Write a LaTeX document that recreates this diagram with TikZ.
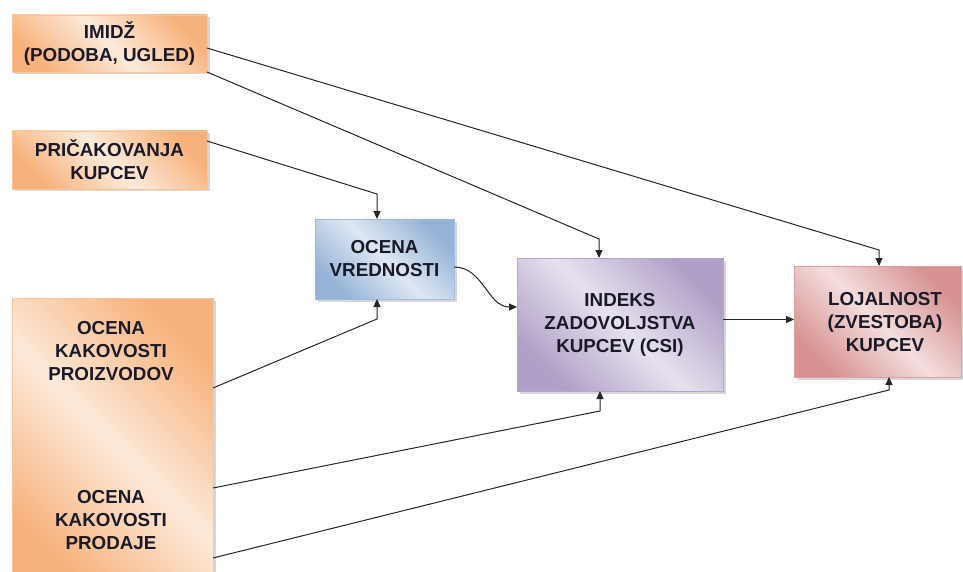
\documentclass[tikz,border=0pt]{standalone}
\usepackage{fontspec}
\setmainfont{Liberation Sans}
\usetikzlibrary{arrows.meta,shadows,calc}
\definecolor{orangeD}{RGB}{247,178,124}
\definecolor{orangeL}{RGB}{253,234,218}
\definecolor{orangeB}{RGB}{248,196,156}
\definecolor{blueD}{RGB}{149,179,215}
\definecolor{blueL}{RGB}{222,231,243}
\definecolor{blueB}{RGB}{160,187,220}
\definecolor{purpleD}{RGB}{176,160,199}
\definecolor{purpleL}{RGB}{230,225,238}
\definecolor{purpleB}{RGB}{180,165,202}
\definecolor{pinkD}{RGB}{215,145,145}
\definecolor{pinkL}{RGB}{243,222,221}
\definecolor{pinkB}{RGB}{222,160,160}
\definecolor{txtcol}{RGB}{25,25,40}
\begin{document}
\begin{tikzpicture}[x=1pt,y=-1pt,
  every node/.style={font=\bfseries\fontsize{18.8}{23}\selectfont, text=txtcol, align=center, outer sep=0pt},
  boxbase/.style={rectangle, line width=0.6pt,
     drop shadow={shadow xshift=2.5pt, shadow yshift=-2.5pt, fill=black!35, opacity=0.45}},
  obox/.style={boxbase, draw=orangeB, top color=orangeD, bottom color=orangeD, middle color=orangeL, shading angle=-45},
  bbox/.style={boxbase, draw=blueB, top color=blueD, bottom color=blueD, middle color=blueL, shading angle=-45},
  pbox/.style={boxbase, draw=purpleB, top color=purpleD, bottom color=purpleD, middle color=purpleL, shading angle=-45},
  kbox/.style={boxbase, draw=pinkB, top color=pinkD, bottom color=pinkD, middle color=pinkL, shading angle=-45},
  conn/.style={draw=black!85, line width=1pt, -{Triangle[length=8pt,width=7pt]}}
]
\useasboundingbox (0,0) rectangle (963,572);

% boxes
\node[obox, minimum width=195pt, minimum height=57pt] (imidz) at (109.5,43.5) {IMIDŽ\\(PODOBA, UGLED)};
\node[obox, minimum width=195pt, minimum height=58pt] (prica) at (109.5,160) {PRIČAKOVANJA\\KUPCEV};
\node[bbox, minimum width=139pt, minimum height=80pt] (vred) at (384.5,259) {OCENA\\VREDNOSTI};
\node[pbox, minimum width=206pt, minimum height=133pt] (csi) at (620,324.5) {INDEKS\\ZADOVOLJSTVA\\KUPCEV (CSI)};
\node[kbox, minimum width=167pt, minimum height=111pt] (loj) at (877.5,321.5) {};
\node (lojt) at (885,322) {LOJALNOST\\(ZVESTOBA)\\KUPCEV};
\node[obox, minimum width=201pt, minimum height=290pt, anchor=north west] (big) at (12,298) {};
\node (bigt1) at (111,351) {OCENA\\KAKOVOSTI\\PROIZVODOV};
\node (bigt2) at (111,520) {OCENA\\KAKOVOSTI\\PRODAJE};

% bend points
\coordinate (b1) at (879,250);
\coordinate (b2) at (599,239);
\coordinate (b3) at (377,194);
\coordinate (b5) at (377,319);
\coordinate (b6) at (600,411);
\coordinate (b7) at (889,390);

% connectors
\draw[conn] ([yshift=-4.5pt]imidz.east) -- (b1) -- (b1 |- loj.north);
\draw[conn] (imidz.south east) -- (b2) -- (b2 |- csi.north);
\draw[conn] ([yshift=19pt]prica.east) -- (b3) -- (b3 |- vred.north);
\draw[conn] ([yshift=-8pt]vred.east) to[out=0,in=180] ([yshift=17.5pt]csi.west);
\draw[conn] ([yshift=-90pt]big.north east) -- (b5) -- (b5 |- vred.south);
\draw[conn] ([yshift=-190pt]big.north east) -- (b6) -- (b6 |- csi.south);
\draw[conn] ([yshift=-260pt]big.north east) -- (b7) -- (b7 |- loj.south);
\draw[conn] ([yshift=5pt]csi.east) coordinate (c8) -- (c8 -| loj.west);
\end{tikzpicture}
\end{document}
